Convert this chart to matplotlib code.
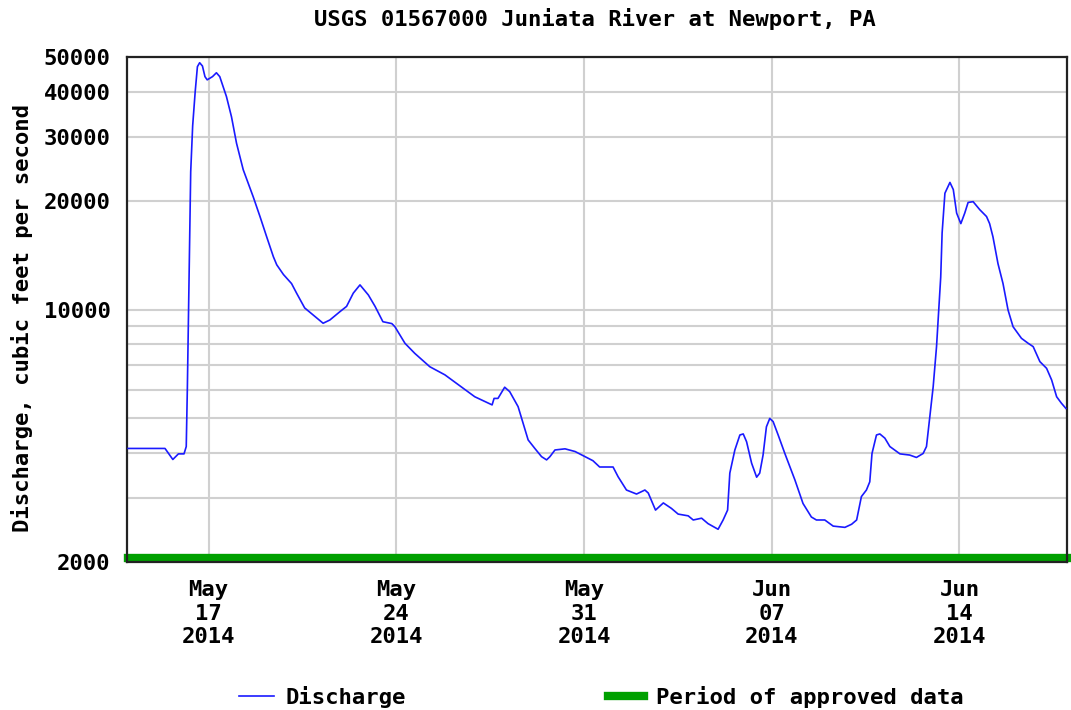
import matplotlib
matplotlib.use("Agg")
import matplotlib.pyplot as plt
from matplotlib.ticker import FixedLocator, NullFormatter
from matplotlib.lines import Line2D
import matplotlib.transforms as mtransforms
import pandas as pd

title = "USGS 01567000 Juniata River at Newport, PA"
ylabel = "Discharge, cubic feet per second"

times = [
    "2014-05-14 00:00", "2014-05-15 09:00", "2014-05-15 16:00", "2014-05-15 21:00",
    "2014-05-16 02:00", "2014-05-16 04:00", "2014-05-16 05:00", "2014-05-16 06:30",
    "2014-05-16 08:00", "2014-05-16 09:45", "2014-05-16 12:00", "2014-05-16 14:00",
    "2014-05-16 16:00", "2014-05-16 18:30", "2014-05-16 20:45", "2014-05-16 22:45",
    "2014-05-17 03:30", "2014-05-17 07:00", "2014-05-17 10:00", "2014-05-17 13:00",
    "2014-05-17 16:00", "2014-05-17 20:30", "2014-05-18 01:00", "2014-05-18 07:00",
    "2014-05-18 16:00", "2014-05-18 22:00", "2014-05-19 04:00", "2014-05-19 10:00",
    "2014-05-19 13:00", "2014-05-19 19:00", "2014-05-20 02:15", "2014-05-20 06:45",
    "2014-05-20 14:00", "2014-05-20 21:30", "2014-05-21 06:30", "2014-05-21 12:30",
    "2014-05-21 21:30", "2014-05-22 03:30", "2014-05-22 09:30", "2014-05-22 15:30",
    "2014-05-22 23:00", "2014-05-23 05:00", "2014-05-23 12:00", "2014-05-23 20:00",
    "2014-05-23 22:45", "2014-05-24 07:45", "2014-05-24 16:30", "2014-05-25 06:00",
    "2014-05-25 19:30", "2014-05-26 10:30", "2014-05-26 22:15", "2014-05-27 13:45",
    "2014-05-27 15:30", "2014-05-27 19:00", "2014-05-28 01:00", "2014-05-28 05:30",
    "2014-05-28 13:00", "2014-05-28 17:30", "2014-05-28 22:00", "2014-05-29 04:00",
    "2014-05-29 10:00", "2014-05-29 14:30", "2014-05-29 17:30", "2014-05-29 22:00",
    "2014-05-30 07:00", "2014-05-30 16:00", "2014-05-31 01:00", "2014-05-31 08:00",
    "2014-05-31 14:00", "2014-06-01 02:00", "2014-06-01 06:30", "2014-06-01 14:00",
    "2014-06-01 23:00", "2014-06-02 06:30", "2014-06-02 09:30", "2014-06-02 16:00",
    "2014-06-02 23:00", "2014-06-03 06:15", "2014-06-03 12:15", "2014-06-03 21:15",
    "2014-06-04 01:45", "2014-06-04 09:15", "2014-06-04 15:00", "2014-06-05 00:00",
    "2014-06-05 04:30", "2014-06-05 08:30", "2014-06-05 10:30", "2014-06-05 15:00",
    "2014-06-05 19:30", "2014-06-05 22:30", "2014-06-06 01:30", "2014-06-06 06:00",
    "2014-06-06 10:30", "2014-06-06 13:15", "2014-06-06 16:15", "2014-06-06 19:15",
    "2014-06-06 22:15", "2014-06-07 01:15", "2014-06-07 05:45", "2014-06-07 11:45",
    "2014-06-07 20:45", "2014-06-08 04:00", "2014-06-08 11:30", "2014-06-08 16:00",
    "2014-06-08 23:30", "2014-06-09 07:00", "2014-06-09 17:30", "2014-06-09 23:30",
    "2014-06-10 04:00", "2014-06-10 08:15", "2014-06-10 12:45", "2014-06-10 15:45",
    "2014-06-10 17:45", "2014-06-10 21:45", "2014-06-11 00:45", "2014-06-11 05:15",
    "2014-06-11 09:45", "2014-06-11 18:45", "2014-06-12 03:30", "2014-06-12 09:30",
    "2014-06-12 15:30", "2014-06-12 18:30", "2014-06-12 21:30", "2014-06-13 00:30",
    "2014-06-13 03:30", "2014-06-13 05:30", "2014-06-13 07:15", "2014-06-13 08:30",
    "2014-06-13 11:00", "2014-06-13 15:30", "2014-06-13 18:30", "2014-06-13 21:30",
    "2014-06-14 01:15", "2014-06-14 04:45", "2014-06-14 07:45", "2014-06-14 12:15",
    "2014-06-14 18:15", "2014-06-15 00:15", "2014-06-15 03:00", "2014-06-15 06:00",
    "2014-06-15 10:30", "2014-06-15 15:00", "2014-06-15 19:30", "2014-06-16 00:00",
    "2014-06-16 07:30", "2014-06-16 13:30", "2014-06-16 18:00", "2014-06-17 00:00",
    "2014-06-17 06:00", "2014-06-17 10:30", "2014-06-17 15:00", "2014-06-17 19:15",
    "2014-06-17 23:15",
]

discharge = [
    4120, 4120, 3840, 3980,
    3980, 4170, 6050, 12300,
    24100, 32300, 40100, 47100,
    48300, 47300, 44200, 43300,
    44200, 45300, 44200, 41500,
    38900, 34200, 28900, 24400,
    20500, 18100, 15900, 14000,
    13300, 12500, 11800, 11100,
    10100, 9660, 9160, 9350,
    9860, 10200, 11100, 11700,
    10970, 10200, 9250, 9140,
    8960, 8060, 7560, 6940,
    6590, 6090, 5730, 5440,
    5670, 5670, 6090, 5920,
    5380, 4840, 4350, 4120,
    3910, 3830, 3910, 4080,
    4110, 4040, 3910, 3810,
    3660, 3660, 3440, 3160,
    3080, 3160, 3100, 2780,
    2910, 2810, 2710, 2680,
    2610, 2640, 2550, 2460,
    2610, 2780, 3520, 4080,
    4490, 4520, 4300, 3750,
    3430, 3520, 3950, 4730,
    4990, 4890, 4490, 3990,
    3370, 2900, 2660, 2610,
    2610, 2510, 2490, 2540,
    2610, 3030, 3160, 3330,
    3990, 4490, 4520, 4400,
    4170, 3980, 3950, 3890,
    3990, 4170, 5040, 6110,
    7890, 9970, 12300, 16300,
    21000, 22500, 21500, 18500,
    17300, 18500, 19800, 19900,
    18900, 18100, 17300, 15900,
    13400, 11800, 9970, 8960,
    8320, 8060, 7890, 7170,
    6870, 6380, 5730, 5500,
    5320,
]

approved_period = ["2014-05-14 00:00", "2014-06-18 00:00"]
x_ticks = ["2014-05-17", "2014-05-24", "2014-05-31", "2014-06-07", "2014-06-14"]
x_tick_labels = ["May\n17\n2014", "May\n24\n2014", "May\n31\n2014", "Jun\n07\n2014", "Jun\n14\n2014"]
y_major = [2000, 10000, 20000, 30000, 40000, 50000]
y_minor = [3000, 4000, 5000, 6000, 7000, 8000, 9000]
legend_labels = ["Discharge", "Period of approved data"]

FONT = "DejaVu Sans Mono"
FS = 16
BLUE = "#1a1aff"
GREEN = "#00a000"

plt.rcParams["font.family"] = FONT
plt.rcParams["font.weight"] = "bold"

fig = plt.figure(figsize=(10.71, 7.10), dpi=100)
ax = fig.add_axes([127.3 / 1071, 1 - 561.7 / 710, (1066.7 - 127.3) / 1071, (561.7 - 57.3) / 710])

t = pd.to_datetime(times)
ax.plot(t, discharge, color=BLUE, lw=1.2, zorder=3)

# approved data bar
off = mtransforms.offset_copy(ax.transData, fig=fig, x=0, y=3.0, units="points")
ap = pd.to_datetime(approved_period)
ax.plot(ap, [2000, 2000], color=GREEN, lw=6, transform=off, clip_on=False,
        solid_capstyle="projecting", zorder=2)

ax.set_yscale("log")
ax.set_ylim(2000, 50000)
ax.set_xlim(pd.Timestamp("2014-05-13 23:15"), pd.Timestamp("2014-06-18 00:00"))

ax.yaxis.set_major_locator(FixedLocator(y_major))
ax.yaxis.set_minor_locator(FixedLocator(y_minor))
ax.yaxis.set_minor_formatter(NullFormatter())
ax.set_yticklabels([str(v) for v in y_major])

ax.set_xticks(pd.to_datetime(x_ticks))
ax.set_xticklabels(x_tick_labels, linespacing=1.24)

ax.grid(True, which="both", color="#d0d0d0", lw=1.5, zorder=0)
ax.set_axisbelow(True)
ax.tick_params(axis="both", which="both", length=0, labelsize=FS)
ax.tick_params(axis="y", pad=12)
ax.tick_params(axis="x", pad=13)
for lab in ax.get_xticklabels() + ax.get_yticklabels():
    lab.set_fontweight("bold")

for s in ax.spines.values():
    s.set_color("#222222")
    s.set_linewidth(1.6)

fig.text(595 / 1071, 1 - 19 / 710, title, ha="center", va="center", fontsize=FS, fontweight="bold")
fig.text(22 / 1071, 1 - 318 / 710, ylabel, ha="center", va="center", rotation=90,
         fontsize=FS, fontweight="bold")

handles = [Line2D([], [], color=BLUE, lw=1.2), Line2D([], [], color=GREEN, lw=6)]
fig.legend(handles, legend_labels, loc="center", bbox_to_anchor=(601 / 1071, 1 - 697 / 710),
           ncol=2, frameon=False, handlelength=1.58, handletextpad=0.54,
           columnspacing=9.1, prop={"weight": "bold", "size": FS, "family": FONT})

fig.savefig("out.png", dpi=100)
